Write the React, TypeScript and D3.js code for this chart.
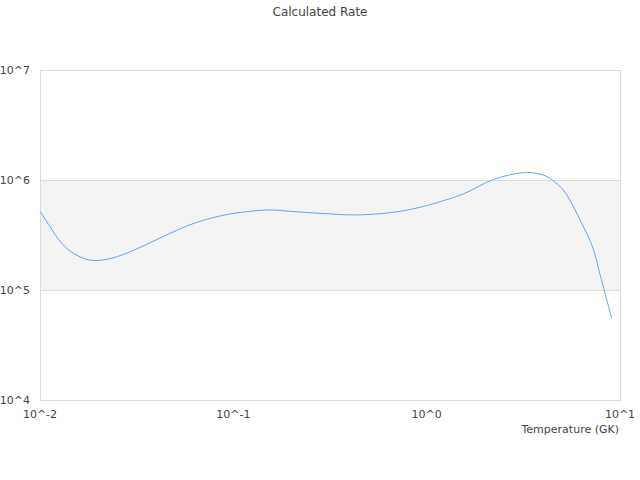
import React, { useEffect, useRef } from 'react';
import * as d3 from 'd3';

// Temperature (GK) and calculated rate
const temperatures = [
  0.01, 0.01127, 0.01295, 0.01486, 0.01814, 0.02214, 0.02808, 0.03562, 0.04699, 0.06466,
  0.09616, 0.1549, 0.1963, 0.2808, 0.4176, 0.5741, 0.7283, 0.9246, 1.127, 1.548,
  2.213, 3.228, 4.01, 4.45, 5.09, 5.74, 6.34, 7.2, 7.94, 9.06,
];
const rates = [
  5.22e5, 3.76e5, 2.66e5, 2.16e5, 1.87e5, 1.9e5, 2.16e5, 2.6e5, 3.27e5, 4.12e5,
  4.91e5, 5.34e5, 5.19e5, 4.98e5, 4.81e5, 4.94e5, 5.19e5, 5.65e5, 6.22e5, 7.47e5,
  1.01e6, 1.17e6, 1.11e6, 1.0e6, 8.11e5, 5.72e5, 4.04e5, 2.48e5, 1.32e5, 5.53e4,
];
const xTicks = [0.01, 0.1, 1, 10];
const yTicks = [1e4, 1e5, 1e6, 1e7];

const width = 640;
const height = 480;
const margin = { top: 70, right: 20, bottom: 80, left: 40 };

export default function App() {
  const svgRef = useRef<SVGSVGElement>(null);

  useEffect(() => {
    if (!svgRef.current) return;
    const svg = d3.select(svgRef.current);
    svg.selectAll('*').remove();

    const innerWidth = width - margin.left - margin.right;
    const innerHeight = height - margin.top - margin.bottom;

    const x = d3.scaleLog().domain([0.01, 10]).range([0, innerWidth]);
    const y = d3.scaleLog().domain([1e4, 1e7]).range([innerHeight, 0]);

    const font = '"DejaVu Sans", sans-serif';
    const textColor = '#444';

    svg.append('text')
      .attr('x', width / 2)
      .attr('y', 16)
      .attr('text-anchor', 'middle')
      .style('font-family', font)
      .style('font-size', '12px')
      .style('fill', textColor)
      .text('Calculated Rate');

    const g = svg.append('g')
      .attr('transform', `translate(${margin.left}, ${margin.top})`);

    // alternating band between 10^5 and 10^6
    g.append('rect')
      .attr('x', 0)
      .attr('width', innerWidth)
      .attr('y', y(1e6))
      .attr('height', y(1e5) - y(1e6))
      .attr('fill', '#f3f3f3');

    // grid lines
    g.selectAll('.grid')
      .data(yTicks)
      .enter().append('line')
      .attr('x1', 0)
      .attr('x2', innerWidth)
      .attr('y1', d => Math.round(y(d)) + 0.5)
      .attr('y2', d => Math.round(y(d)) + 0.5)
      .attr('stroke', '#dcdcdc');

    // plot border
    g.append('rect')
      .attr('x', 0.5)
      .attr('y', 0.5)
      .attr('width', innerWidth)
      .attr('height', innerHeight)
      .attr('fill', 'none')
      .attr('stroke', '#dcdcdc');

    // y labels
    g.selectAll('.ylabel')
      .data(yTicks)
      .enter().append('text')
      .attr('x', -10)
      .attr('y', d => y(d) + 4)
      .attr('text-anchor', 'end')
      .style('font-family', font)
      .style('font-size', '11px')
      .style('fill', textColor)
      .text(d => `10^${Math.round(Math.log10(d))}`);

    // x labels
    g.selectAll('.xlabel')
      .data(xTicks)
      .enter().append('text')
      .attr('x', d => x(d))
      .attr('y', innerHeight + 18)
      .attr('text-anchor', 'middle')
      .style('font-family', font)
      .style('font-size', '11px')
      .style('fill', textColor)
      .text(d => `10^${Math.round(Math.log10(d))}`);

    g.append('text')
      .attr('x', innerWidth - 1)
      .attr('y', innerHeight + 33)
      .attr('text-anchor', 'end')
      .style('font-family', font)
      .style('font-size', '11px')
      .style('fill', textColor)
      .text('Temperature (GK)');

    const points: [number, number][] = temperatures.map((t, i) => [t, rates[i]]);
    const line = d3.line<[number, number]>()
      .x(d => x(d[0]))
      .y(d => y(d[1]))
      .curve(d3.curveCatmullRom.alpha(0.5));

    g.append('path')
      .datum(points)
      .attr('d', line)
      .attr('fill', 'none')
      .attr('stroke', '#62a8ee')
      .attr('stroke-width', 1);
  }, []);

  return (
    <svg
      ref={svgRef}
      width={width}
      height={height}
      style={{ position: 'absolute', left: 0, top: 0, background: '#fff' }}
    />
  );
}
